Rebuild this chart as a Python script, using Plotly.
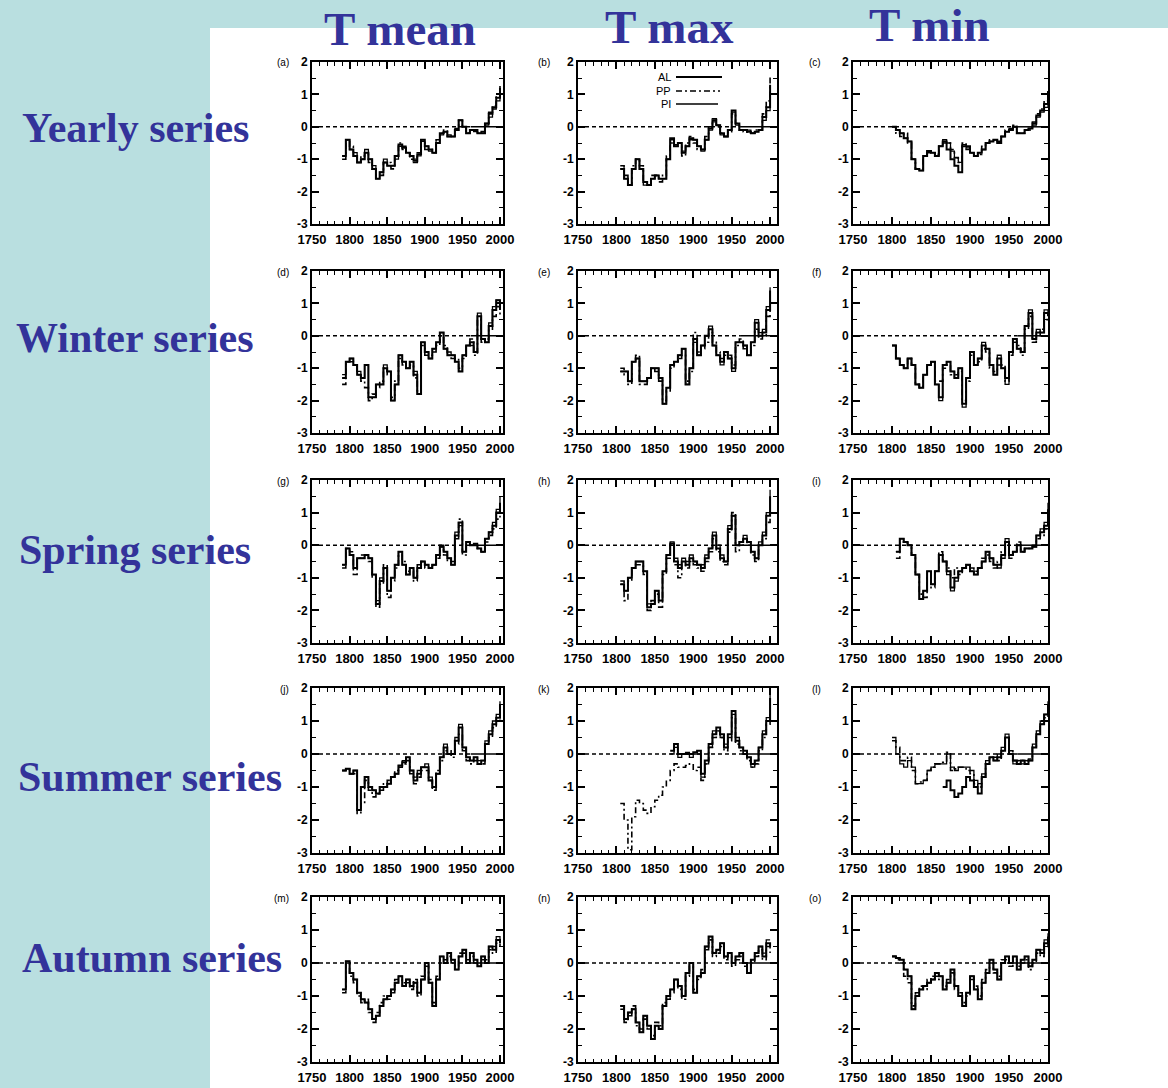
import plotly.graph_objects as go

N = None
YEARS = list(range(1790, 2001, 5))
SEASONS = ["Yearly series", "Winter series", "Spring series", "Summer series", "Autumn series"]
VARIABLES = ["T mean", "T max", "T min"]
PANEL_LABELS = ["(a)", "(b)", "(c)", "(d)", "(e)", "(f)", "(g)", "(h)", "(i)",
                "(j)", "(k)", "(l)", "(m)", "(n)", "(o)"]
SERIES_NAMES = ["AL", "PP", "PI"]
X_TICKS = [1750, 1800, 1850, 1900, 1950, 2000]
Y_TICKS = [-3, -2, -1, 0, 1, 2]
Y_TICK_TEXT = ["-3", "-2", "-1", "0", "1", "2"]

# ---------------- Yearly ----------------
MEAN_YEARLY_AL = [-0.9, -0.4, -0.7, -0.9, -1.1, -1.0, -0.8, -1.0, -1.3, -1.6,
                  -1.4, -1.1, -1.2, -1.2, -0.9, -0.55, -0.65, -0.8, -0.9, -1.05,
                  -0.85, -0.4, -0.6, -0.7, -0.8, -0.5, -0.2, -0.15, -0.3, -0.3,
                  -0.1, 0.2, 0.0, -0.2, -0.1, -0.1, -0.2, -0.2, 0.1, 0.4,
                  0.6, 0.9, 1.2]
MEAN_YEARLY_PP = [-1.0, -0.4, -0.6, -0.9, -1.1, -0.9, -0.8, -1.1, -1.3, -1.5,
                  -1.5, -1.1, -1.1, -1.3, -0.9, -0.5, -0.7, -0.8, -1.0, -1.1,
                  -0.8, -0.4, -0.7, -0.7, -0.8, -0.4, -0.2, -0.1, -0.3, -0.3,
                  -0.1, 0.2, 0.0, -0.2, -0.1, -0.1, -0.2, -0.15, 0.1, 0.45,
                  0.65, 0.95, 1.3]
MEAN_YEARLY_PI = [-0.9, -0.4, -0.7, -0.8, -1.1, -1.0, -0.7, -1.0, -1.2, -1.6,
                  -1.4, -1.0, -1.2, -1.2, -1.0, -0.6, -0.6, -0.8, -0.9, -1.0,
                  -0.9, -0.45, -0.6, -0.75, -0.8, -0.5, -0.25, -0.15, -0.25, -0.3,
                  -0.05, 0.2, 0.0, -0.2, -0.1, -0.15, -0.2, -0.2, 0.05, 0.3,
                  0.55, 0.8, 1.0]

MAX_YEARLY_AL = [N, N, N, -1.3, -1.6, -1.8, -1.3, -1.0, -1.3, -1.7,
                 -1.8, -1.6, -1.5, -1.6, -1.6, -1.0, -0.35, -0.6, -0.5, -0.8,
                 -0.6, -0.35, -0.4, -0.6, -0.7, -0.4, -0.05, 0.2, 0.05, -0.2,
                 -0.3, -0.1, 0.5, 0.1, -0.1, -0.1, -0.15, -0.2, -0.15, -0.1,
                 0.3, 0.6, 1.3]
MAX_YEARLY_PP = [N, N, N, -1.2, -1.5, -1.8, -1.2, -1.0, -1.2, -1.7,
                 -1.8, -1.5, -1.5, -1.7, -1.5, -0.9, -0.5, -0.6, -0.6, -0.9,
                 -0.5, -0.3, -0.5, -0.7, -0.7, -0.3, 0.0, 0.25, 0.0, -0.2,
                 -0.3, -0.15, 0.4, 0.1, -0.1, -0.15, -0.2, -0.2, -0.1, -0.1,
                 0.4, 0.8, 1.6]
MAX_YEARLY_PI = [N, N, N, -1.3, -1.6, -1.8, -1.3, -1.0, -1.3, -1.8,
                 -1.8, -1.6, -1.5, -1.6, -1.6, -1.0, -0.4, -0.55, -0.5, -0.75,
                 -0.6, -0.4, -0.4, -0.6, -0.75, -0.4, -0.1, 0.15, 0.05, -0.25,
                 -0.3, -0.1, 0.45, 0.05, -0.1, -0.1, -0.1, -0.2, -0.15, -0.1,
                 0.2, 0.5, 1.0]

MIN_YEARLY_AL = [N, N, 0.0, -0.1, -0.2, -0.35, -0.45, -1.0, -1.3, -1.35,
                 -0.9, -0.75, -0.8, -0.9, -0.6, -0.45, -0.7, -1.0, -1.2, -1.4,
                 -0.6, -0.6, -0.8, -0.9, -0.8, -0.7, -0.5, -0.45, -0.4, -0.5,
                 -0.3, -0.15, -0.1, 0.0, -0.2, -0.2, -0.1, -0.05, 0.1, 0.35,
                 0.5, 0.7, 1.1]
MIN_YEARLY_PP = [N, N, 0.0, -0.2, -0.3, -0.2, -0.5, -1.0, -1.3, -1.3,
                 -0.9, -0.8, -0.8, -0.85, -0.6, -0.5, -0.5, -0.7, -0.95, -1.1,
                 -0.5, -0.7, -0.8, -0.9, -0.85, -0.6, -0.5, -0.4, -0.4, -0.45,
                 -0.3, -0.1, -0.1, 0.05, -0.2, -0.2, -0.1, -0.1, 0.15, 0.4,
                 0.55, 0.8, 1.2]
MIN_YEARLY_PI = [N, N, 0.0, -0.1, -0.2, -0.35, -0.45, -1.0, -1.3, -1.35,
                 -0.9, -0.75, -0.8, -0.9, -0.6, -0.4, -0.5, -0.75, -0.95, -1.1,
                 -0.55, -0.65, -0.8, -0.9, -0.8, -0.7, -0.5, -0.45, -0.4, -0.5,
                 -0.3, -0.15, -0.05, 0.0, -0.2, -0.2, -0.1, -0.05, 0.05, 0.3,
                 0.45, 0.6, 0.8]

# ---------------- Winter ----------------
MEAN_WINTER_AL = [-1.3, -0.8, -0.7, -0.9, -1.2, -1.3, -0.9, -1.9, -1.9, -1.5,
                  -1.5, -1.0, -1.1, -2.0, -1.5, -0.6, -0.8, -1.0, -0.8, -1.2,
                  -1.8, -0.2, -0.5, -0.7, -0.4, -0.2, 0.1, -0.4, -0.6, -0.6,
                  -0.8, -1.1, -0.6, -0.3, -0.2, -0.5, 0.6, -0.1, -0.2, 0.3,
                  0.8, 1.1, 0.8]
MEAN_WINTER_PP = [-1.5, -0.8, -0.8, -0.9, -1.2, -1.4, -1.6, -2.0, -1.8, -1.6,
                  -1.4, -1.0, -1.2, -1.9, -1.4, -0.7, -0.9, -1.0, -0.9, -1.3,
                  -1.7, -0.3, -0.6, -0.6, -0.5, -0.3, 0.0, -0.3, -0.6, -0.7,
                  -0.7, -1.0, -0.7, -0.3, -0.1, -0.6, 0.5, -0.2, -0.1, 0.2,
                  0.6, 0.9, 0.6]
MEAN_WINTER_PI = [-1.2, -0.8, -0.7, -0.9, -1.1, -1.3, -0.9, -1.9, -1.9, -1.5,
                  -1.5, -0.9, -1.1, -2.0, -1.5, -0.6, -0.8, -1.0, -0.8, -1.1,
                  -1.8, -0.2, -0.5, -0.7, -0.4, -0.2, 0.1, -0.4, -0.5, -0.6,
                  -0.8, -1.1, -0.6, -0.3, -0.3, -0.5, 0.7, -0.1, -0.2, 0.4,
                  0.9, 1.1, 1.0]

MAX_WINTER_AL = [N, N, N, -1.1, -1.1, -1.4, -0.8, -0.7, -1.4, -1.4,
                 -1.3, -1.0, -1.0, -1.3, -2.1, -1.6, -0.9, -0.8, -0.6, -0.4,
                 -1.5, -1.0, -0.1, -0.6, -0.3, 0.0, 0.2, -0.3, -0.6, -0.8,
                 -0.5, -0.7, -1.0, -0.2, -0.2, -0.3, -0.6, -0.2, 0.4, 0.0,
                 0.1, 0.8, 1.4]
MAX_WINTER_PP = [N, N, N, -1.0, -1.2, -1.5, -0.8, -0.6, -1.5, -1.5,
                 -1.3, -1.0, -1.1, -1.4, -2.0, -1.7, -1.0, -0.8, -0.7, -0.6,
                 -1.4, -1.1, 0.1, -0.5, -0.4, -0.2, 0.1, -0.2, -0.5, -0.7,
                 -0.6, -0.6, -0.9, -0.3, -0.1, -0.4, -0.5, -0.3, 0.2, -0.1,
                 0.0, 0.6, 0.9]
MAX_WINTER_PI = [N, N, N, -1.1, -1.1, -1.4, -0.8, -0.7, -1.4, -1.4,
                 -1.3, -1.0, -1.0, -1.3, -2.1, -1.6, -0.9, -0.8, -0.6, -0.4,
                 -1.5, -1.0, -0.2, -0.6, -0.3, 0.0, 0.3, -0.3, -0.6, -0.9,
                 -0.5, -0.7, -1.1, -0.2, -0.2, -0.3, -0.6, -0.2, 0.5, 0.1,
                 0.2, 0.9, 1.5]

MIN_WINTER_AL = [N, N, -0.3, -0.7, -0.9, -1.0, -0.7, -0.9, -1.5, -1.6,
                 -1.2, -0.9, -0.8, -1.5, -1.9, -0.9, -0.8, -1.1, -1.3, -1.0,
                 -2.1, -1.3, -0.5, -0.9, -0.7, -0.3, -0.4, -0.9, -1.2, -0.7,
                 -1.0, -1.3, -0.5, -0.1, -0.4, -0.5, 0.3, 0.7, -0.1, 0.1,
                 0.1, 0.7, 0.6]
MIN_WINTER_PP = [N, N, -0.3, -0.7, -0.9, -1.0, -0.7, -0.9, -1.5, -1.6,
                 -1.2, -0.9, -0.8, -1.4, -1.4, -1.0, -0.9, -1.2, -1.2, -1.1,
                 -2.0, -1.4, -0.6, -0.8, -0.8, -0.4, -0.5, -1.0, -1.1, -0.9,
                 -0.9, -1.4, -0.6, -0.2, -0.3, -0.6, 0.2, 0.6, -0.2, 0.0,
                 0.2, 0.5, 0.4]
MIN_WINTER_PI = [N, N, -0.3, -0.7, -0.9, -1.0, -0.7, -0.9, -1.5, -1.6,
                 -1.2, -0.9, -0.8, -1.5, -2.0, -0.9, -0.8, -1.1, -1.3, -1.0,
                 -2.2, -1.3, -0.5, -0.9, -0.7, -0.2, -0.4, -0.9, -1.2, -0.6,
                 -1.0, -1.5, -0.5, -0.1, -0.4, -0.5, 0.3, 0.8, -0.1, 0.2,
                 0.1, 0.8, 0.7]

# ---------------- Spring ----------------
MEAN_SPRING_AL = [-0.6, -0.1, -0.3, -0.7, -0.4, -0.4, -0.3, -0.4, -0.9, -1.8,
                  -1.1, -0.7, -1.4, -1.0, -0.6, -0.2, -0.6, -0.9, -0.7, -1.0,
                  -0.7, -0.5, -0.6, -0.7, -0.6, -0.3, -0.05, -0.2, -0.4, -0.6,
                  0.3, 0.7, -0.2, 0.1, 0.0, 0.0, -0.1, -0.2, 0.2, 0.4,
                  0.6, 1.0, 1.3]
MEAN_SPRING_PP = [-0.7, -0.1, -0.2, -0.9, -0.4, -0.3, -0.3, -0.5, -1.0, -1.9,
                  -1.2, -0.6, -1.6, -1.1, -0.7, -0.3, -0.5, -0.8, -0.8, -1.1,
                  -0.6, -0.5, -0.7, -0.7, -0.6, -0.4, 0.0, -0.3, -0.5, -0.5,
                  0.2, 0.8, -0.3, 0.0, 0.0, 0.05, -0.1, -0.2, 0.1, 0.3,
                  0.5, 0.8, 0.9]
MEAN_SPRING_PI = [-0.6, -0.1, -0.3, -0.7, -0.4, -0.4, -0.3, -0.4, -0.9, -1.7,
                  -1.0, -0.7, -1.4, -1.0, -0.6, -0.2, -0.6, -0.9, -0.7, -1.0,
                  -0.7, -0.5, -0.6, -0.7, -0.6, -0.3, -0.05, -0.2, -0.4, -0.6,
                  0.4, 0.6, -0.2, 0.1, 0.0, 0.0, -0.1, -0.2, 0.2, 0.4,
                  0.7, 1.1, 1.5]

MAX_SPRING_AL = [N, N, N, -1.2, -1.4, -1.0, -0.7, -0.5, -0.5, -0.8,
                 -1.9, -1.8, -1.4, -1.7, -0.8, -0.3, 0.05, -0.5, -0.7, -0.5,
                 -0.6, -0.4, -0.5, -0.6, -0.7, -0.4, -0.1, 0.3, -0.1, -0.4,
                 -0.5, 0.5, 0.9, 0.0, 0.1, 0.2, 0.1, -0.2, -0.4, 0.0,
                 0.3, 0.9, 1.5]
MAX_SPRING_PP = [N, N, N, -1.1, -1.7, -1.1, -0.7, -0.6, -0.6, -0.9,
                 -2.0, -1.7, -1.5, -1.9, -0.9, -0.4, 0.0, -0.6, -1.0, -0.6,
                 -0.7, -0.5, -0.6, -0.7, -0.8, -0.5, -0.2, 0.2, -0.2, -0.5,
                 -0.6, 0.4, 1.0, -0.2, 0.0, 0.2, 0.0, -0.3, -0.5, 0.0,
                 0.2, 0.7, 1.0]
MAX_SPRING_PI = [N, N, N, -1.2, -1.4, -1.0, -0.7, -0.5, -0.5, -0.8,
                 -1.8, -1.8, -1.4, -1.7, -0.8, -0.3, 0.1, -0.4, -0.6, -0.4,
                 -0.5, -0.3, -0.5, -0.6, -0.6, -0.3, -0.1, 0.4, 0.0, -0.3,
                 -0.5, 0.6, 0.9, 0.0, 0.1, 0.3, 0.1, -0.2, -0.4, 0.1,
                 0.4, 1.0, 1.7]

MIN_SPRING_AL = [N, N, N, -0.2, 0.2, 0.1, 0.0, -0.3, -0.9, -1.65,
                 -1.4, -0.8, -1.2, -0.8, -0.3, -0.5, -0.8, -1.3, -1.0, -0.8,
                 -0.7, -0.6, -0.8, -0.9, -0.7, -0.5, -0.2, -0.4, -0.6, -0.6,
                 -0.3, 0.1, -0.3, -0.2, 0.0, -0.2, -0.1, -0.1, -0.05, 0.3,
                 0.4, 0.6, 1.1]
MIN_SPRING_PP = [N, N, N, -0.4, 0.1, 0.1, 0.0, -0.3, -0.9, -1.5,
                 -1.6, -1.0, -1.3, -0.8, -0.2, -0.5, -0.7, -1.0, -0.7, -0.9,
                 -0.7, -0.6, -0.7, -0.8, -0.7, -0.4, -0.3, -0.5, -0.7, -0.5,
                 -0.2, 0.1, -0.4, -0.2, 0.1, -0.2, -0.1, -0.1, 0.0, 0.2,
                 0.3, 0.5, 0.9]
MIN_SPRING_PI = [N, N, N, -0.2, 0.2, 0.1, 0.0, -0.3, -0.9, -1.65,
                 -1.4, -0.8, -1.2, -0.8, -0.3, -0.5, -0.9, -1.4, -1.1, -0.8,
                 -0.7, -0.6, -0.8, -0.9, -0.7, -0.5, -0.2, -0.4, -0.6, -0.7,
                 -0.4, 0.2, -0.3, -0.2, 0.0, -0.2, -0.1, -0.1, -0.05, 0.3,
                 0.5, 0.7, 1.3]

# ---------------- Summer ----------------
MEAN_SUMMER_AL = [-0.5, -0.45, -0.6, -0.5, -1.7, -1.0, -0.7, -1.0, -1.1, -1.2,
                  -1.0, -1.0, -0.9, -0.7, -0.6, -0.35, -0.25, -0.1, -0.5, -0.8,
                  -0.6, -0.4, -0.4, -0.8, -1.0, -0.6, -0.1, 0.2, 0.0, 0.0,
                  0.4, 0.8, 0.2, -0.1, -0.2, -0.1, -0.3, -0.2, 0.3, 0.6,
                  0.9, 1.1, 1.5]
MEAN_SUMMER_PP = [-0.5, -0.45, -0.6, -0.6, -1.8, -1.5, -0.8, -1.1, -1.3, -1.2,
                  -1.1, -0.9, -0.8, -0.7, -0.5, -0.4, -0.3, -0.2, -0.6, -0.9,
                  -0.7, -0.5, -0.5, -0.8, -1.1, -0.5, -0.2, 0.1, 0.1, -0.1,
                  0.3, 0.6, 0.1, -0.2, -0.3, -0.2, -0.3, -0.3, 0.3, 0.5,
                  0.8, 1.0, 1.2]
MEAN_SUMMER_PI = [-0.5, -0.45, -0.6, -0.5, -1.7, -1.0, -0.7, -1.0, -1.1, -1.2,
                  -1.0, -1.0, -0.9, -0.7, -0.6, -0.35, -0.2, -0.1, -0.5, -0.7,
                  -0.5, -0.4, -0.3, -0.7, -1.0, -0.6, -0.1, 0.3, 0.0, 0.0,
                  0.5, 0.9, 0.2, -0.1, -0.2, -0.1, -0.2, -0.2, 0.4, 0.7,
                  1.0, 1.2, 1.6]

MAX_SUMMER_AL = [N, N, N, N, N, N, N, N, N, N,
                 N, N, N, N, N, N, 0.1, 0.3, 0.0, 0.0,
                 0.0, 0.0, 0.05, 0.1, -0.6, -0.2, 0.3, 0.6, 0.8, 0.6,
                 0.2, 0.6, 1.3, 0.4, 0.2, 0.1, -0.1, -0.3, -0.2, 0.2,
                 0.6, 1.0, 1.7]
MAX_SUMMER_PP = [N, N, N, -1.5, -2.0, -2.9, -1.9, -1.4, -1.5, -1.7,
                 -1.8, -1.6, -1.4, -1.25, -1.0, -0.8, -0.5, -0.3, -0.4, -0.4,
                 -0.35, -0.3, -0.5, -0.4, -0.8, -0.3, 0.2, 0.5, 0.7, 0.5,
                 0.1, 0.4, 1.1, 0.3, 0.1, 0.0, -0.2, -0.4, -0.3, 0.1,
                 0.5, 0.9, 1.3]
MAX_SUMMER_PI = [N, N, N, N, N, N, N, N, N, N,
                 N, N, N, N, N, N, 0.0, 0.2, -0.1, 0.0,
                 0.05, -0.1, 0.0, 0.0, -0.7, -0.3, 0.2, 0.7, 0.7, 0.5,
                 0.3, 0.5, 1.2, 0.5, 0.2, 0.0, -0.1, -0.4, -0.2, 0.2,
                 0.7, 1.1, 1.9]

MIN_SUMMER_AL = [N, N, N, N, N, N, N, N, N, N,
                 N, N, N, N, N, -1.0, -0.8, -1.1, -1.3, -1.2,
                 -1.0, -0.7, -0.8, -1.0, -1.2, -0.7, -0.3, -0.1, -0.2, -0.1,
                 0.1, 0.5, 0.0, -0.2, -0.3, -0.2, -0.3, -0.2, 0.2, 0.6,
                 0.9, 1.2, 1.5]
MIN_SUMMER_PP = [N, N, 0.4, 0.2, -0.2, -0.2, -0.1, -0.5, -0.9, -0.85,
                 -0.8, -0.5, -0.4, -0.3, -0.3, -0.25, 0.05, -0.5, -0.45, -0.4,
                 -0.4, -0.5, -0.6, -0.9, -1.0, -0.7, -0.3, -0.1, -0.1, -0.2,
                 0.1, 0.5, 0.1, -0.2, -0.2, -0.2, -0.2, -0.15, 0.2, 0.6,
                 0.9, 1.1, 1.4]
MIN_SUMMER_PI = [N, N, 0.5, 0.0, -0.3, -0.4, -0.2, -0.4, -0.9, -0.9,
                 -0.8, -0.5, -0.4, -0.3, -0.3, -0.3, 0.0, -0.4, -0.5, -0.4,
                 -0.4, -0.4, -0.5, -0.8, -0.9, -0.6, -0.2, -0.1, -0.2, 0.0,
                 0.2, 0.6, 0.0, -0.3, -0.2, -0.3, -0.2, -0.2, 0.3, 0.7,
                 1.0, 1.2, 1.6]

# ---------------- Autumn ----------------
MEAN_AUTUMN_AL = [-0.8, 0.05, -0.3, -0.5, -0.9, -1.1, -1.2, -1.4, -1.7, -1.6,
                  -1.3, -1.1, -1.0, -0.8, -0.6, -0.4, -0.7, -0.5, -0.7, -0.6,
                  -0.9, -0.5, 0.0, -0.6, -1.3, -0.5, 0.2, 0.0, 0.3, 0.1,
                  -0.2, 0.2, 0.4, 0.0, 0.3, 0.1, -0.1, 0.2, 0.0, 0.5,
                  0.4, 0.7, 0.6]
MEAN_AUTUMN_PP = [-0.9, 0.0, -0.4, -0.6, -1.0, -1.2, -1.1, -1.5, -1.8, -1.5,
                  -1.2, -1.0, -1.1, -0.9, -0.5, -0.5, -0.6, -0.6, -0.8, -0.5,
                  -1.0, -0.4, -0.1, -0.5, -1.2, -0.4, 0.1, 0.1, 0.2, 0.0,
                  -0.1, 0.3, 0.3, 0.1, 0.2, 0.0, 0.0, 0.1, 0.1, 0.4,
                  0.3, 0.6, 0.5]
MEAN_AUTUMN_PI = [-0.8, 0.05, -0.3, -0.5, -0.9, -1.1, -1.2, -1.4, -1.7, -1.6,
                  -1.3, -1.1, -1.0, -0.8, -0.6, -0.4, -0.7, -0.5, -0.7, -0.6,
                  -0.9, -0.5, 0.0, -0.6, -1.3, -0.5, 0.2, 0.0, 0.3, 0.1,
                  -0.2, 0.2, 0.4, 0.0, 0.3, 0.1, -0.1, 0.2, 0.0, 0.5,
                  0.5, 0.8, 0.7]

MAX_AUTUMN_AL = [N, N, N, -1.3, -1.7, -1.5, -1.4, -1.8, -2.1, -1.6,
                 -1.9, -2.3, -1.9, -2.0, -1.3, -1.0, -0.8, -0.5, -0.7, -1.0,
                 -0.3, 0.0, -0.9, -0.4, -0.3, 0.5, 0.8, 0.3, 0.4, 0.6,
                 0.2, 0.3, 0.0, 0.2, 0.3, 0.0, -0.3, 0.1, 0.3, 0.5,
                 0.2, 0.6, 0.5]
MAX_AUTUMN_PP = [N, N, N, -1.4, -1.8, -1.6, -1.3, -1.9, -2.0, -1.7,
                 -2.0, -2.2, -1.8, -1.9, -1.2, -1.1, -0.9, -0.6, -0.8, -1.1,
                 -0.4, -0.1, -0.8, -0.5, -0.2, 0.4, 0.7, 0.2, 0.3, 0.5,
                 0.1, 0.2, -0.1, 0.1, 0.2, -0.1, -0.3, 0.0, 0.2, 0.4,
                 0.1, 0.5, 0.3]
MAX_AUTUMN_PI = [N, N, N, -1.3, -1.7, -1.5, -1.4, -1.8, -2.1, -1.6,
                 -1.9, -2.3, -1.9, -2.0, -1.3, -1.0, -0.8, -0.5, -0.7, -1.0,
                 -0.3, 0.0, -0.9, -0.4, -0.3, 0.5, 0.8, 0.3, 0.4, 0.6,
                 0.2, 0.3, 0.0, 0.2, 0.3, 0.0, -0.3, 0.1, 0.3, 0.5,
                 0.3, 0.7, 0.7]

MIN_AUTUMN_AL = [N, N, 0.2, 0.15, 0.1, -0.2, -0.4, -1.4, -1.0, -0.8,
                 -0.7, -0.6, -0.5, -0.3, -0.4, -0.8, -0.6, -0.2, -0.7, -1.0,
                 -1.3, -0.9, -0.4, -0.8, -1.1, -0.6, -0.3, 0.1, -0.2, -0.5,
                 0.0, 0.2, 0.0, 0.2, -0.2, 0.1, 0.2, -0.1, 0.1, 0.4,
                 0.3, 0.6, 0.8]
MIN_AUTUMN_PP = [N, N, 0.2, 0.1, 0.0, -0.4, -0.6, -1.3, -0.9, -0.7,
                 -0.8, -0.5, -0.4, -0.4, -0.5, -0.7, -0.5, -0.3, -0.8, -0.9,
                 -1.2, -1.0, -0.5, -0.7, -1.0, -0.5, -0.2, 0.0, -0.3, -0.4,
                 0.1, 0.1, -0.1, 0.1, -0.1, 0.0, 0.1, -0.2, 0.0, 0.3,
                 0.2, 0.5, 0.6]
MIN_AUTUMN_PI = [N, N, 0.2, 0.15, 0.1, -0.2, -0.4, -1.4, -1.0, -0.8,
                 -0.7, -0.6, -0.5, -0.3, -0.4, -0.8, -0.6, -0.2, -0.7, -1.0,
                 -1.3, -0.9, -0.4, -0.8, -1.1, -0.6, -0.3, 0.1, -0.2, -0.5,
                 0.0, 0.2, 0.0, 0.2, -0.2, 0.1, 0.2, -0.1, 0.1, 0.4,
                 0.4, 0.7, 0.9]

PANELS = [
    [(MEAN_YEARLY_AL, MEAN_YEARLY_PP, MEAN_YEARLY_PI), (MAX_YEARLY_AL, MAX_YEARLY_PP, MAX_YEARLY_PI), (MIN_YEARLY_AL, MIN_YEARLY_PP, MIN_YEARLY_PI)],
    [(MEAN_WINTER_AL, MEAN_WINTER_PP, MEAN_WINTER_PI), (MAX_WINTER_AL, MAX_WINTER_PP, MAX_WINTER_PI), (MIN_WINTER_AL, MIN_WINTER_PP, MIN_WINTER_PI)],
    [(MEAN_SPRING_AL, MEAN_SPRING_PP, MEAN_SPRING_PI), (MAX_SPRING_AL, MAX_SPRING_PP, MAX_SPRING_PI), (MIN_SPRING_AL, MIN_SPRING_PP, MIN_SPRING_PI)],
    [(MEAN_SUMMER_AL, MEAN_SUMMER_PP, MEAN_SUMMER_PI), (MAX_SUMMER_AL, MAX_SUMMER_PP, MAX_SUMMER_PI), (MIN_SUMMER_AL, MIN_SUMMER_PP, MIN_SUMMER_PI)],
    [(MEAN_AUTUMN_AL, MEAN_AUTUMN_PP, MEAN_AUTUMN_PI), (MAX_AUTUMN_AL, MAX_AUTUMN_PP, MAX_AUTUMN_PI), (MIN_AUTUMN_AL, MIN_AUTUMN_PP, MIN_AUTUMN_PI)],
]

# ---------------- Layout geometry (pixels) ----------------
W, H = 1168, 1088
COL_PX = [(312, 503), (578, 777), (853, 1048)]
ROW_PX = [(62, 224), (271, 433), (480, 643), (688, 853), (897, 1062)]
X_RANGES = [[1750, 2004], [1750, 2009], [1750, 2000]]
ZERO_SOLID_FROM = 1961
BG_BLUE = "#b9dfe0"
TITLE_BLUE = "#33339a"
LABEL_FONT = "Liberation Sans, Arial, sans-serif"
SERIF = "Liberation Serif, Times New Roman, serif"

STYLES = {
    "AL": dict(color="black", width=2.0, dash="solid"),
    "PP": dict(color="black", width=1.6, dash="6px,3px,2px,3px"),
    "PI": dict(color="black", width=1.3, dash="solid"),
}

fig = go.Figure()
layout = dict(
    width=W, height=H, autosize=False,
    margin=dict(l=0, r=0, t=0, b=0, pad=0, autoexpand=False),
    paper_bgcolor=BG_BLUE, plot_bgcolor="rgba(0,0,0,0)",
    showlegend=False,
)
shapes = [dict(type="rect", xref="paper", yref="paper", x0=210 / W, x1=1, y0=0, y1=1 - 28 / H,
               fillcolor="white", line=dict(width=0), layer="below")]
annotations = []

for r in range(5):
    for c in range(3):
        k = r * 3 + c
        sfx = "" if k == 0 else str(k + 1)
        xa, ya = "x" + sfx, "y" + sfx
        x0, x1 = COL_PX[c]
        top, bot = ROW_PX[r]
        layout["xaxis" + sfx] = dict(
            domain=[x0 / W, x1 / W], anchor=ya, range=X_RANGES[c],
            tickmode="array", tickvals=X_TICKS, automargin=False,
            showline=True, linecolor="black", linewidth=2, mirror="ticks",
            ticks="inside", ticklen=7, tickwidth=1.5, tickcolor="black",
            minor=dict(dtick=10, tick0=1750, ticks="inside", ticklen=3.5, tickwidth=1.3, tickcolor="black"),
            showgrid=False, zeroline=False,
            tickfont=dict(family=LABEL_FONT, size=13, color="black", weight="bold"),
            ticklabelstandoff=2,
        )
        layout["yaxis" + sfx] = dict(
            domain=[1 - bot / H, 1 - top / H], anchor=xa, range=[-3, 2],
            tickmode="array", tickvals=Y_TICKS, ticktext=Y_TICK_TEXT, automargin=False,
            showline=True, linecolor="black", linewidth=2, mirror="ticks",
            ticks="inside", ticklen=7, tickwidth=1.5, tickcolor="black",
            minor=dict(dtick=0.5, tick0=0, ticks="inside", ticklen=4, tickwidth=1.3, tickcolor="black"),
            showgrid=False, zeroline=False,
            tickfont=dict(family=LABEL_FONT, size=12, color="black", weight="bold"),
        )
        al, pp, pi = PANELS[r][c]
        for name, vals in zip(SERIES_NAMES, (al, pp, pi)):
            fig.add_trace(go.Scatter(
                x=YEARS, y=vals, mode="lines", name=name, xaxis=xa, yaxis=ya,
                line=dict(shape="hv", **STYLES[name]), connectgaps=False, hoverinfo="skip",
            ))
        # zero reference line: dashed early part, solid late part
        shapes.append(dict(type="line", xref=xa, yref=ya, x0=X_RANGES[c][0], x1=ZERO_SOLID_FROM, y0=0, y1=0,
                           line=dict(color="black", width=1.5, dash="4px,3px"), layer="below"))
        shapes.append(dict(type="line", xref=xa, yref=ya, x0=ZERO_SOLID_FROM, x1=X_RANGES[c][1], y0=0, y1=0,
                           line=dict(color="black", width=1.5), layer="below"))
        # panel letter
        lab_right = [291, 552, 823][c]
        annotations.append(dict(text=PANEL_LABELS[k], xref="paper", yref="paper",
                                x=lab_right / W, y=1 - (top + 1) / H, xanchor="right", yanchor="middle",
                                showarrow=False, font=dict(family=LABEL_FONT, size=10, color="black")))

# column titles
for name, cx, cy in zip(VARIABLES, [400, 669, 929], [29, 27, 25]):
    annotations.append(dict(text="<b>%s</b>" % name, xref="paper", yref="paper", x=cx / W, y=1 - cy / H,
                            xanchor="center", yanchor="middle", showarrow=False,
                            font=dict(family=SERIF, size=47, color=TITLE_BLUE)))
# row labels
for name, cx, cy in zip(SEASONS, [135, 135, 135, 150, 152], [128, 338, 550, 777, 958]):
    annotations.append(dict(text="<b>%s</b>" % name, xref="paper", yref="paper", x=cx / W, y=1 - cy / H,
                            xanchor="center", yanchor="middle", showarrow=False,
                            font=dict(family=SERIF, size=42, color=TITLE_BLUE)))

# legend inside panel (b)
for i, name in enumerate(SERIES_NAMES):
    ly = [77, 91, 104][i]
    annotations.append(dict(text=name, xref="paper", yref="paper", x=673 / W, y=1 - ly / H,
                            xanchor="right", yanchor="middle", showarrow=False,
                            font=dict(family=LABEL_FONT, size=11, color="black")))
    st = STYLES[name]
    shapes.append(dict(type="line", xref="paper", yref="paper", x0=676 / W, x1=[722, 720, 718][i] / W,
                       y0=1 - ly / H, y1=1 - ly / H,
                       line=dict(color="black", width=st["width"], dash=st["dash"])))

layout["shapes"] = shapes
layout["annotations"] = annotations
fig.update_layout(**layout)
fig.write_html("out.html", config={"displayModeBar": False},
               post_script="document.body.style.margin='0';document.body.style.overflow='hidden';")
